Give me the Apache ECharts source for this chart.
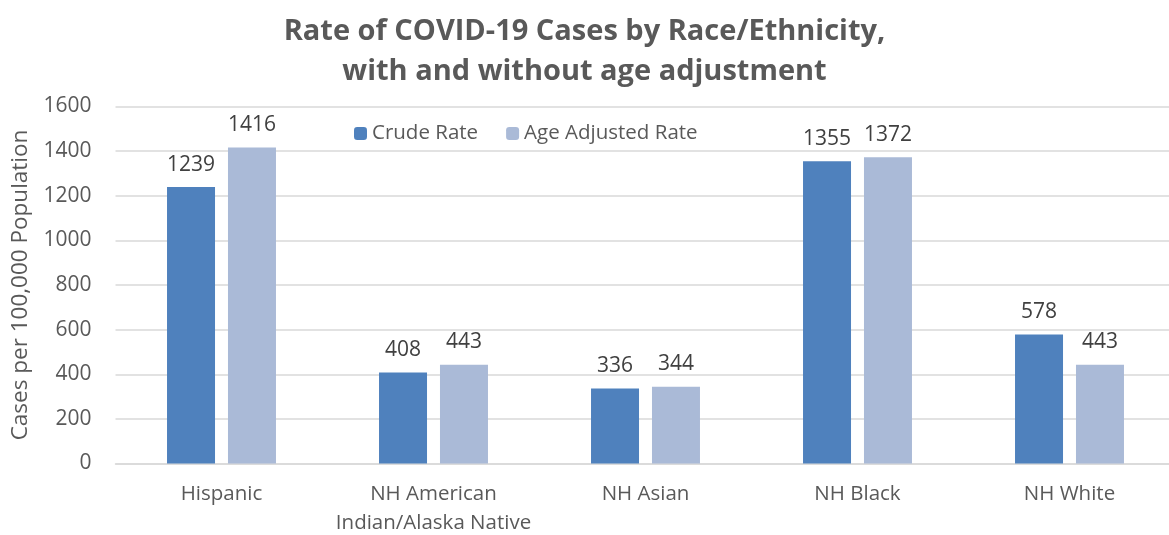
<!DOCTYPE html>
<html>
<head>
<meta charset="utf-8">
<script src="https://cdn.jsdelivr.net/npm/echarts@6/dist/echarts.min.js"></script>
<style>html,body{margin:0;padding:0;background:#fff}#c{width:1169px;height:535px}</style>
</head>
<body>
<div id="c"></div>
<script>
const categories = ['Hispanic', 'NH American\nIndian/Alaska Native', 'NH Asian', 'NH Black', 'NH White'];
const crudeRate = [1239, 408, 336, 1355, 578];
const ageAdjustedRate = [1416, 443, 344, 1372, 443];
const seriesNames = ['Crude Rate', 'Age Adjusted Rate'];
const yTicks = {min: 0, max: 1600, interval: 200};

const font = '"Open Sans", "Noto Sans", sans-serif';
const chart = echarts.init(document.getElementById('c'));
const labelStyle = {show: true, position: 'top', distance: 12, fontSize: 21, color: '#404040', fontFamily: font};
chart.setOption({
  animation: false,
  title: {
    text: 'Rate of COVID-19 Cases by Race/Ethnicity,\nwith and without age adjustment',
    left: 'center', top: 7,
    textStyle: {fontSize: 29, fontWeight: 'bold', color: '#595959', fontFamily: font, lineHeight: 40}
  },
  legend: {
    data: seriesNames, left: 349, top: 118,
    itemWidth: 13, itemHeight: 13, itemGap: 28,
    textStyle: {fontSize: 20.5, color: '#595959', fontFamily: font}
  },
  grid: {left: 115.5, width: 1060, top: 106.5, bottom: 71.5, containLabel: false, outerBoundsMode: 'none'},
  xAxis: {
    type: 'category', data: categories,
    axisLine: {lineStyle: {color: '#d9d9d9', width: 1.5}},
    axisTick: {show: false},
    axisLabel: {interval: 0, fontSize: 20.5, color: '#595959', fontFamily: font, margin: 16, lineHeight: 29}
  },
  yAxis: {
    type: 'value', min: yTicks.min, max: yTicks.max, interval: yTicks.interval,
    name: 'Cases per 100,000 Population', nameLocation: 'middle', nameGap: 82,
    nameTextStyle: {fontSize: 22.5, color: '#595959', fontFamily: font},
    axisLine: {show: false}, axisTick: {show: false},
    axisLabel: {fontSize: 21, color: '#595959', fontFamily: font, margin: 24, formatter: v => String(v)},
    splitLine: {lineStyle: {color: '#d9d9d9', width: 1.5}}
  },
  series: [
    {name: seriesNames[0], type: 'bar', data: crudeRate, barWidth: 48, barGap: '27%',
     itemStyle: {color: '#4F81BD'}, label: labelStyle},
    {name: seriesNames[1], type: 'bar', data: ageAdjustedRate, barWidth: 48, barGap: '27%',
     itemStyle: {color: '#AABAD7'}, label: labelStyle}
  ]
});
</script>
</body>
</html>
